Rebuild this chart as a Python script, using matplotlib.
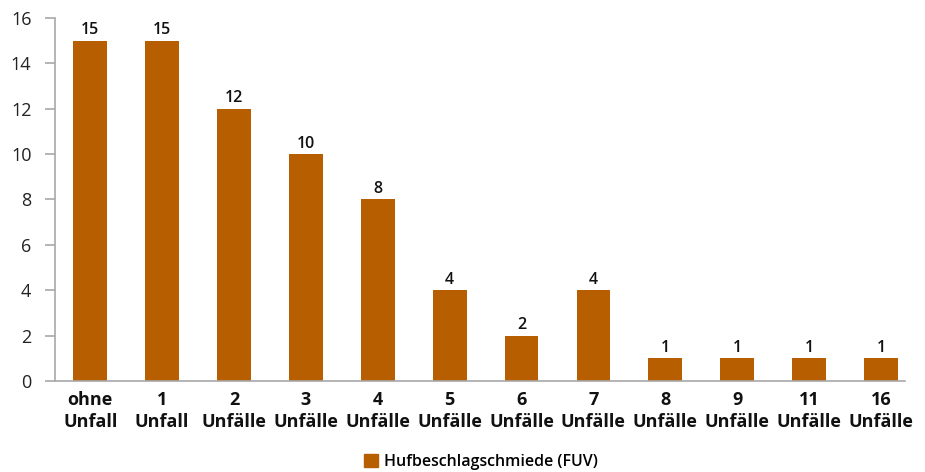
import matplotlib
matplotlib.use("Agg")
import matplotlib.pyplot as plt
from matplotlib.patches import Patch

categories = ["ohne\nUnfall", "1\nUnfall", "2\nUnfälle", "3\nUnfälle", "4\nUnfälle", "5\nUnfälle",
              "6\nUnfälle", "7\nUnfälle", "8\nUnfälle", "9\nUnfälle", "11\nUnfälle", "16\nUnfälle"]
values = [15, 15, 12, 10, 8, 4, 2, 4, 1, 1, 1, 1]
series_name = "Hufbeschlagschmiede (FUV)"
yticks = [0, 2, 4, 6, 8, 10, 12, 14, 16]

color = "#B75F00"
plt.rcParams['font.family'] = ['Open Sans', 'DejaVu Sans']

fig = plt.figure(figsize=(9.25, 4.72), dpi=100)
ax = fig.add_axes([0.0595, 0.193, 0.9185, 0.769])
x = list(range(len(categories)))
bars = ax.bar(x, values, width=0.47, color=color)
for xi, v in zip(x, values):
    ax.text(xi, v + 0.1, str(v), ha='center', va='bottom', fontsize=11.5, fontweight='semibold', color='#111111')

ax.set_xlim(-0.49, 11.33)
ax.set_ylim(0, 16)
ax.set_yticks(yticks)
ax.set_yticklabels([str(t) for t in yticks], fontsize=13, color='#222222')
ax.set_xticks(x)
ax.set_xticklabels(categories, fontsize=13, fontweight='bold', color='#111111', linespacing=1.3)
ax.tick_params(axis='x', length=0, pad=7)
ax.tick_params(axis='y', length=7, color='#A8A8A8', width=1.2, pad=10)
for s in ['top', 'right']:
    ax.spines[s].set_visible(False)
for s in ['left', 'bottom']:
    ax.spines[s].set_color('#A8A8A8')
    ax.spines[s].set_linewidth(1.2)

leg = fig.legend(handles=[Patch(color=color, label=series_name)], loc='center', bbox_to_anchor=(0.52, 0.022),
           frameon=False, fontsize=11.5, handlelength=0.9, handleheight=0.9, handletextpad=0.4)
for t in leg.get_texts():
    t.set_fontweight('semibold')
fig.savefig("out.png", dpi=100)
